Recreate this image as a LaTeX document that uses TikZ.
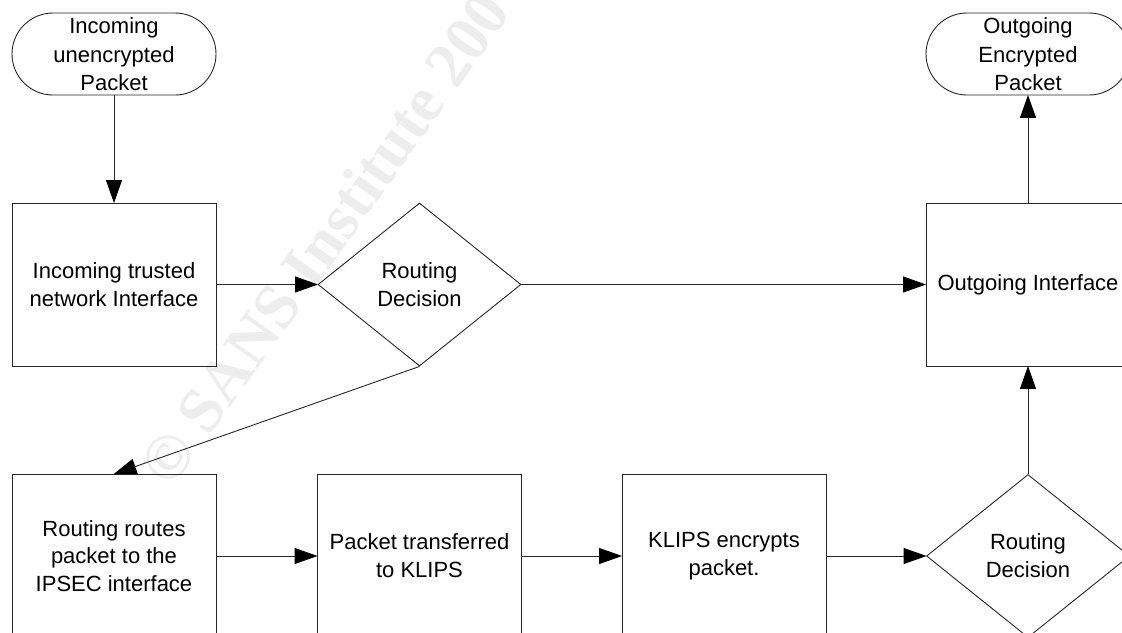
\documentclass[tikz,border=0pt]{standalone}
\usepackage{fontspec}
\setmainfont{Liberation Sans}
\newfontfamily\wmfont{Liberation Serif}
\usetikzlibrary{arrows.meta,shapes.geometric,shapes.misc}
\definecolor{lineC}{gray}{0.15}
\tikzset{
  x=1pt,y=-1pt,
  lbl/.style={font=\fontsize{22}{27.8}\selectfont,text=black,align=center,inner sep=0pt},
  boxnode/.style={lbl,draw=lineC,line width=0.9pt,rectangle,minimum width=204pt,minimum height=163pt},
  termnode/.style={lbl,draw=lineC,line width=0.9pt,rectangle,rounded corners=41pt,minimum width=204pt,minimum height=82pt},
  decnode/.style={lbl,draw=lineC,line width=0.9pt,diamond,aspect=1.25,inner sep=0pt,minimum width=203pt,minimum height=163pt},
  flow/.style={draw=lineC,line width=0.9pt,-{Triangle[length=23pt,width=16pt,black]},shorten >=-0.5pt}
}
\begin{document}
\begin{tikzpicture}
\useasboundingbox (0,0) rectangle (1122,632);
\clip (0,0) rectangle (1122,632);
\node[rotate=54.5,font=\wmfont\bfseries\fontsize{64}{64}\selectfont,text=black!7,anchor=west,inner sep=0pt] (wm) at (154,477) {© SANS Institute 200};
\node[termnode] (t1) at (114,54) {Incoming\\[1.5pt]unencrypted\\Packet};
\node[termnode] (t2) at (1028,54) {Outgoing\\[1.5pt]Encrypted\\Packet};
\node[boxnode] (b1) at (114,284.5) {Incoming trusted\\network Interface};
\node[decnode] (d1) at (419.5,284.5) {Routing\\Decision};
\node[boxnode] (b2) at (1028,284.5) {Outgoing Interface};
\node[boxnode] (b3) at (114,556) {Routing routes\\packet to the\\IPSEC interface};
\node[boxnode] (b4) at (419.5,556) {Packet transferred\\to KLIPS};
\node[boxnode] (b5) at (724,556) {KLIPS encrypts\\packet.};
\node[decnode] (d2) at (1028,556) {Routing\\Decision};
\draw[flow] (t1.south) -- (b1.north);
\draw[flow] (b1.east) -- (d1.west);
\draw[flow] (d1.east) -- (b2.west);
\draw[flow] (d1.south) -- (b3.north);
\draw[flow] (b3.east) -- (b4.west);
\draw[flow] (b4.east) -- (b5.west);
\draw[flow] (b5.east) -- (d2.west);
\draw[flow] (d2.north) -- (b2.south);
\draw[flow] (b2.north) -- (t2.south);
\end{tikzpicture}
\end{document}
